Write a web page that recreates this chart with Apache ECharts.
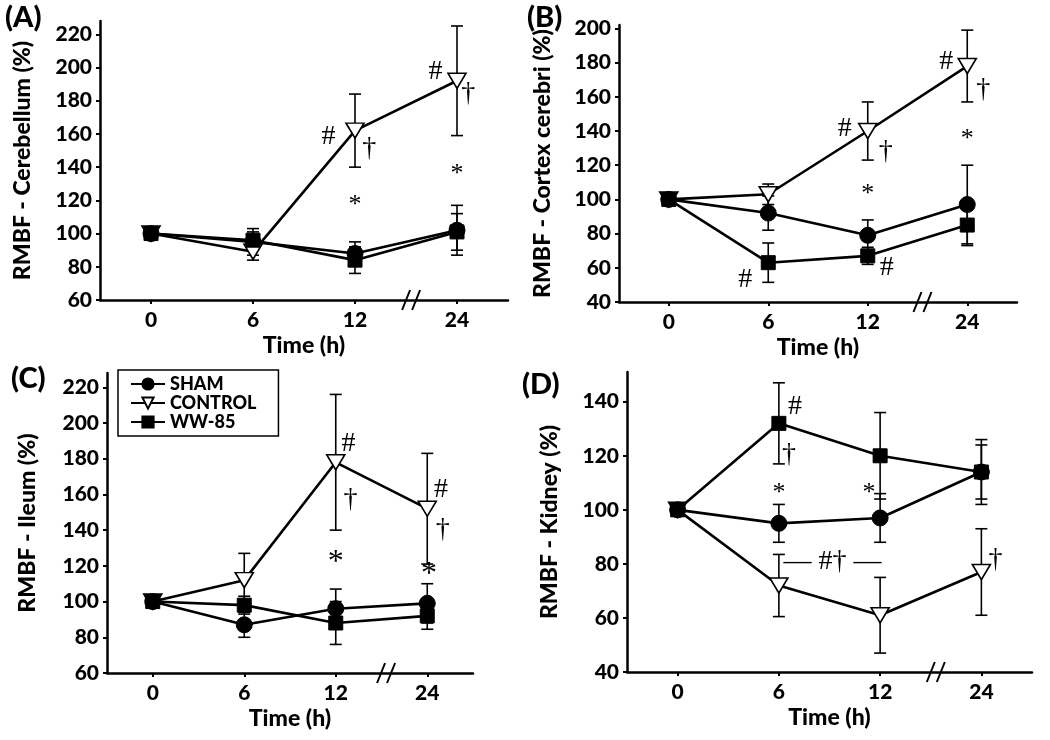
<!DOCTYPE html>
<html><head><meta charset="utf-8">
<script src="https://cdn.jsdelivr.net/npm/echarts@6/dist/echarts.min.js"></script>
<style>html,body{margin:0;padding:0;background:#fff}#c{width:1050px;height:740px}</style>
</head><body><div id="c"></div>
<script>
// ---------- DATA ----------
const timeLabels = ['0', '6', '12', '24'];
const seriesNames = ['SHAM', 'CONTROL', 'WW-85'];
const panelLetters = ['(A)', '(B)', '(C)', '(D)'];
const yTitles = ['RMBF - Cerebellum (%)', 'RMBF - Cortex cerebri (%)', 'RMBF - Ileum (%)', 'RMBF - Kidney (%)'];
const xTitle = 'Time (h)';
const yMin = [60, 40, 60, 40];
const yMax = [228, 202, 228, 151];
const yStep = [20, 20, 20, 20];

// (A) Cerebellum
const shamA = [100, 95, 88, 102];   const shamErrA = [1, 8, 7, 15];
const controlA = [100, 89, 162, 192]; const controlErrA = [1, 5, 22, 33];
const wwA = [100, 96, 84, 101];     const wwErrA = [1, 5, 8, 11];
// (B) Cortex cerebri
const shamB = [100, 92, 79, 97];    const shamErrB = [1, 10, 9, 23];
const controlB = [100, 103, 140, 178]; const controlErrB = [1, 6, 17, 21];
const wwB = [100, 63, 67, 85];      const wwErrB = [1, 11.5, 5, 12];
// (C) Ileum
const shamC = [100, 87, 96, 99];    const shamErrC = [1, 7, 11, 11];
const controlC = [100, 112, 178, 152]; const controlErrC = [1, 15, 38, 31];
const wwC = [100, 98, 88, 92];      const wwErrC = [1, 5, 12, 7.5];
// (D) Kidney
const shamD = [100, 95, 97, 114];   const shamErrD = [1, 7, 9, 12];
const controlD = [100, 72, 61, 77]; const controlErrD = [1, 11.5, 14, 16];
const wwD = [100, 132, 120, 114];   const wwErrD = [1, 15, 16, 10];

// significance marks: [x (time index), y value, text]
const marksA = [[1.74, 158.5, '#'], [2.14, 151, '†'], [2, 121, '*'], [2.79, 197.7, '#'], [3.11, 184, '†'], [3, 139.4, '*']];
const marksB = [[0.77, 53, '#'], [1.77, 141.6, '#'], [2.18, 128, '†'], [2, 106.5, '*'], [2.19, 60, '#'], [2.79, 180.5, '#'], [3.16, 164, '†'], [3, 138.7, '*']];
const marksC = [[2.14, 188.7, '#'], [2.16, 157, '†'], [2, 125, '*'], [3.15, 162.6, '#'], [3.17, 140.2, '†'], [3.02, 118.7, '*']];
const marksD = [[1.16, 138.2, '#'], [1.1, 120.3, '†'], [1, 108.5, '*'], [1.89, 108.5, '*'], [1.53, 80.8, '— #† —'], [3.14, 81.4, '†']];

const panels = [
  { vals: [shamA, controlA, wwA], errs: [shamErrA, controlErrA, wwErrA], marks: marksA },
  { vals: [shamB, controlB, wwB], errs: [shamErrB, controlErrB, wwErrB], marks: marksB },
  { vals: [shamC, controlC, wwC], errs: [shamErrC, controlErrC, wwErrC], marks: marksC },
  { vals: [shamD, controlD, wwD], errs: [shamErrD, controlErrD, wwErrD], marks: marksD }
];

// ---------- LAYOUT / STYLE ----------
const FONT = 'Lato, "Open Sans", sans-serif';
const SERIF = '"Liberation Serif", "DejaVu Serif", serif';
const FS = 21;
const grids = [
  { left: 100, top: 21, width: 408, height: 279 },
  { left: 619, top: 25, width: 398, height: 277 },
  { left: 107, top: 373, width: 366, height: 300 },
  { left: 627, top: 372, width: 405, height: 300 }
];
const yNameGap = [66, 65, 68, 66];
const letterPos = [[5, 3], [527, 3], [11, 364], [522, 370]];
const triDown = 'path://M0,0 L20,0 L10,16 Z';
const symStyle = [
  { symbol: 'circle', symbolSize: 16, itemStyle: { color: '#000', borderColor: '#000', borderWidth: 1 } },
  { symbol: triDown, symbolSize: [18, 15], itemStyle: { color: '#fff', borderColor: '#000', borderWidth: 1.6 } },
  { symbol: 'rect', symbolSize: 14, itemStyle: { color: '#000', borderColor: '#000', borderWidth: 1 } }
];

const chart = echarts.init(document.getElementById('c'), null, { renderer: 'canvas' });

const xAxes = [], yAxes = [], series = [];
grids.forEach((g, i) => {
  const yTicks = [];
  for (let v = yMin[i]; v <= yMax[i]; v += yStep[i]) yTicks.push(v);
  xAxes.push({
    gridIndex: i, type: 'value', min: -0.5, max: 3.5,
    axisLine: { show: true, onZero: false, lineStyle: { color: '#000', width: 2.5 } },
    axisTick: { show: true, customValues: [0, 1, 2, 3], length: 4, lineStyle: { color: '#000', width: 2 } },
    splitLine: { show: false },
    axisLabel: { customValues: [0, 1, 2, 3], formatter: v => timeLabels[Math.round(v)], color: '#000', fontFamily: FONT, fontWeight: 900, fontSize: FS, margin: 10 },
    name: xTitle, nameLocation: 'middle', nameGap: 34,
    nameTextStyle: { color: '#000', fontFamily: FONT, fontWeight: 900, fontSize: 23 }
  });
  yAxes.push({
    gridIndex: i, type: 'value', min: yMin[i], max: yMax[i], interval: yStep[i],
    axisLine: { show: true, onZero: false, lineStyle: { color: '#000', width: 2.5 } },
    axisTick: { show: true, customValues: yTicks, length: 4, lineStyle: { color: '#000', width: 2 } },
    splitLine: { show: false },
    axisLabel: { showMaxLabel: false, color: '#000', fontFamily: FONT, fontWeight: 900, fontSize: FS, margin: 8 },
    name: yTitles[i], nameLocation: 'middle', nameGap: yNameGap[i], nameRotate: 90,
    nameTextStyle: { color: '#000', fontFamily: FONT, fontWeight: 900, fontSize: 23 }
  });
  const p = panels[i];
  // error bars
  p.vals.forEach((vals, s) => {
    series.push({
      type: 'custom', xAxisIndex: i, yAxisIndex: i, z: 2, silent: true,
      data: vals.map((v, j) => [j, v, p.errs[s][j]]),
      renderItem: (params, api) => {
        const x = api.value(0), y = api.value(1), e = api.value(2);
        const top = api.coord([x, y + e]), bot = api.coord([x, y - e]);
        const w = 6;
        const st = { stroke: '#000', lineWidth: 1.6 };
        return { type: 'group', children: [
          { type: 'line', shape: { x1: top[0], y1: top[1], x2: bot[0], y2: bot[1] }, style: st },
          { type: 'line', shape: { x1: top[0] - w, y1: top[1], x2: top[0] + w, y2: top[1] }, style: st },
          { type: 'line', shape: { x1: bot[0] - w, y1: bot[1], x2: bot[0] + w, y2: bot[1] }, style: st }
        ] };
      }
    });
  });
  // lines
  p.vals.forEach((vals, s) => {
    series.push(Object.assign({
      name: seriesNames[s], type: 'line', xAxisIndex: i, yAxisIndex: i, z: 3,
      data: vals.map((v, j) => [j, v]),
      lineStyle: { color: '#000', width: 2.6 },
      showSymbol: true, animation: false
    }, symStyle[s]));
  });
  // significance marks
  series.push({
    type: 'custom', xAxisIndex: i, yAxisIndex: i, z: 5, silent: true,
    data: p.marks.map(m => [m[0], m[1], m[2]]),
    renderItem: (params, api) => {
      const pt = api.coord([api.value(0), api.value(1)]);
      const txt = p.marks[params.dataIndex][2];
      const isStar = txt === '*';
      return { type: 'text', x: pt[0], y: pt[1] + (isStar ? 6 : 0),
        style: { text: txt, fill: '#000', font: (isStar ? (i === 2 ? '32px ' : '26px ') : '28px ') + SERIF, align: 'center', verticalAlign: 'middle' } };
    }
  });
});

chart.setOption({
  animation: false,
  backgroundColor: '#fff',
  grid: grids,
  xAxis: xAxes,
  yAxis: yAxes,
  legend: {
    data: seriesNames, orient: 'vertical', left: 118, top: 370,
    itemWidth: 34, itemHeight: 14, itemGap: 1,
    padding: [5, 22, 5, 12],
    borderColor: '#000', borderWidth: 1.5, backgroundColor: '#fff',
    textStyle: { color: '#000', fontFamily: FONT, fontWeight: 900, fontSize: 18 },
    selectedMode: false
  },
  series: series
});

// panel letters + axis break marks
const graphics = [];
letterPos.forEach((pos, i) => {
  graphics.push({ type: 'text', left: pos[0], top: pos[1], style: { text: panelLetters[i], fill: '#000', font: '900 29px ' + FONT } });
});
grids.forEach((g, i) => {
  const pt = chart.convertToPixel({ gridIndex: i }, [2.55, yMin[i]]);
  [-5, 5].forEach(dx => {
    graphics.push({ type: 'line', shape: { x1: pt[0] + dx - 4, y1: pt[1] + 10, x2: pt[0] + dx + 4, y2: pt[1] - 10 }, style: { stroke: '#000', lineWidth: 2 }, z: 10 });
  });
});
chart.setOption({ graphic: graphics });
</script>
</body></html>
